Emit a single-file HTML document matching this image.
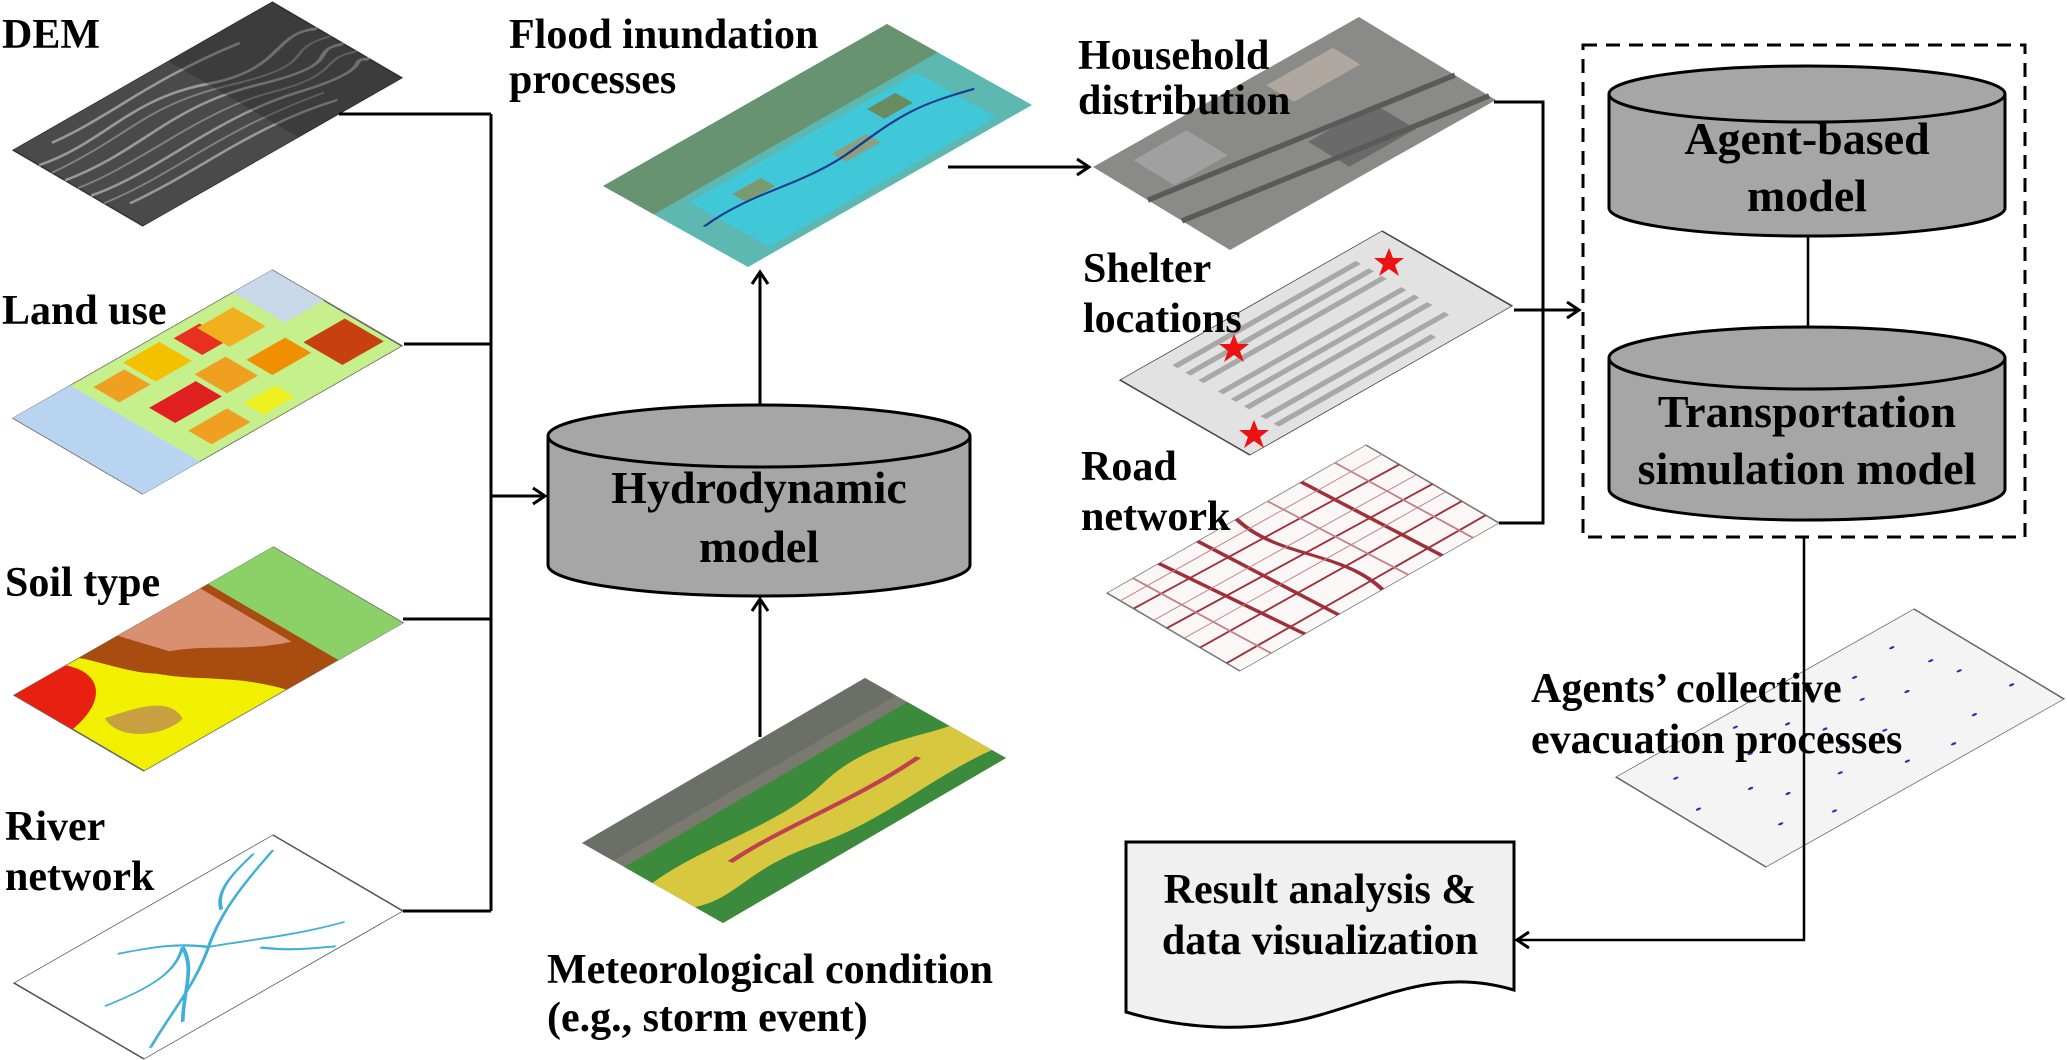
<!DOCTYPE html>
<html><head><meta charset="utf-8"><style>
html,body{margin:0;padding:0;background:#fff}
svg{display:block}
text{font-family:"Liberation Serif",serif;font-weight:bold;font-size:42px;fill:#000}
.cy{font-size:46px}
</style></head><body>
<svg width="2067" height="1060" viewBox="0 0 2067 1060" xmlns="http://www.w3.org/2000/svg">
<defs>
<marker id="ar" markerWidth="20" markerHeight="20" refX="14" refY="10" orient="auto" markerUnits="userSpaceOnUse">
<path d="M2,2 L14,10 L2,18" fill="none" stroke="#000" stroke-width="3"/>
</marker>
</defs>

<!-- DEM -->
<g transform="matrix(2.59,-1.48,1.30,0.76,13,150)">
<rect width="100" height="100" fill="#4a4a4a" stroke="#333" stroke-width="0.6"/>
<path d="M0,20 C20,30 40,10 60,30 S90,20 100,35 M0,40 C25,50 45,30 70,50 S90,45 100,55 M0,60 C20,70 50,55 75,70 S95,65 100,75 M5,80 C30,85 55,75 80,90 M10,10 C30,15 50,5 80,15" stroke="#bbb" stroke-width="2" fill="none" opacity="0.7"/>
<path d="M0,30 C30,35 40,20 65,40 S85,35 100,45 M0,50 C20,58 50,45 70,60 S90,55 100,65 M0,70 C25,78 45,65 80,80" stroke="#999" stroke-width="1.5" fill="none" opacity="0.7"/>
<rect x="60" y="0" width="40" height="100" fill="#222" opacity="0.35"/>
</g>

<!-- Land use -->
<g transform="matrix(2.59,-1.48,1.30,0.76,13,418)">
<rect width="100" height="100" fill="#c6f08c" stroke="#666" stroke-width="0.6"/>
<rect x="0" y="0" width="22" height="100" fill="#b8d4f0"/>
<rect x="85" y="0" width="15" height="40" fill="#c8d8e8"/>
<rect x="26" y="10" width="12" height="20" fill="#f0a020"/>
<rect x="40" y="5" width="14" height="25" fill="#f5c000"/>
<rect x="58" y="8" width="10" height="22" fill="#e83020"/>
<rect x="30" y="45" width="18" height="20" fill="#e02020"/>
<rect x="50" y="40" width="12" height="25" fill="#f0a020"/>
<rect x="65" y="50" width="15" height="20" fill="#f09000"/>
<rect x="82" y="60" width="16" height="30" fill="#c84010"/>
<rect x="30" y="75" width="15" height="18" fill="#f0a020"/>
<rect x="50" y="78" width="12" height="15" fill="#f0f020"/>
<rect x="66" y="10" width="14" height="25" fill="#f0b020"/>
</g>

<!-- Soil -->
<g transform="matrix(2.59,-1.48,1.30,0.76,14,695)">
<rect width="100" height="100" fill="#f0f000" stroke="#666" stroke-width="0.6"/>
<rect x="70" y="0" width="30" height="100" fill="#8cd068"/>
<path d="M25,0 H75 V100 H55 C50,70 40,60 35,40 C30,30 28,10 25,0Z" fill="#a84c10"/>
<path d="M40,0 H72 V70 C60,60 55,40 45,30Z" fill="#d89070"/>
<path d="M0,0 H20 C25,20 15,40 0,45Z" fill="#e82010"/>
<path d="M10,50 C20,55 30,60 25,80 C15,85 5,70 10,50Z" fill="#c8a040"/>
</g>

<!-- River -->
<g transform="matrix(2.59,-1.48,1.30,0.76,14,983)">
<rect width="100" height="100" fill="#fff" stroke="#555" stroke-width="0.6"/>
<path d="M5,95 C20,80 35,70 50,50 S80,20 95,10 M20,90 C30,70 40,60 45,40 M50,50 C60,60 70,75 85,85 M30,20 C40,30 45,35 50,50 M65,30 C70,15 80,10 90,5 M10,50 C25,55 35,55 45,40 M60,70 C65,85 70,90 75,98" stroke="#40b0d8" stroke-width="1.3" fill="none"/>
</g>

<!-- Flood -->
<g transform="matrix(2.84,-1.62,1.45,0.81,603,186)">
<rect width="100" height="100" fill="#5cb8b0"/>
<rect x="0" y="0" width="100" height="35" fill="#6a8a60" opacity="0.8"/>
<rect x="10" y="40" width="80" height="55" fill="#40c8d8"/>
<rect x="20" y="50" width="10" height="10" fill="#7a9a70"/>
<rect x="50" y="60" width="12" height="10" fill="#8aa080"/>
<rect x="70" y="45" width="10" height="12" fill="#6a8a60"/>
<path d="M5,60 C25,55 35,70 55,65 S80,60 95,70" stroke="#1a3a90" stroke-width="1.5" fill="none"/>
</g>

<!-- Household -->
<g transform="matrix(2.66,-1.50,1.37,0.83,1093,167)">
<rect width="100" height="100" fill="#8a8a88"/>
<rect x="10" y="10" width="20" height="30" fill="#a0a0a0"/>
<rect x="50" y="60" width="25" height="30" fill="#6a6a6a"/>
<rect x="60" y="10" width="25" height="20" fill="#b0a8a0"/>
<path d="M0,40 L100,70 M0,65 L100,95" stroke="#5a5a5a" stroke-width="4"/>
</g>

<!-- Shelter -->
<g transform="matrix(2.62,-1.49,1.30,0.75,1120,380)">
<rect width="100" height="100" fill="#e2e2e2" stroke="#444" stroke-width="0.6"/>
<g fill="#a8a8a8">
<rect x="15" y="10" width="70" height="4"/><rect x="15" y="20" width="70" height="4"/><rect x="15" y="30" width="70" height="4"/>
<rect x="15" y="45" width="70" height="4"/><rect x="15" y="55" width="70" height="4"/><rect x="15" y="65" width="70" height="4"/>
<rect x="15" y="78" width="70" height="4"/><rect x="15" y="88" width="60" height="4"/>
</g>
</g>

<!-- Road -->
<g transform="matrix(2.59,-1.48,1.33,0.78,1107,593)">
<rect width="100" height="100" fill="#fbf7f7" stroke="#777" stroke-width="0.6"/>
<path d="M0,20 L100,25 M0,45 L100,50 M0,70 L100,72 M20,0 L25,100 M50,0 C45,40 60,60 55,100 M75,0 L78,100 M0,90 L100,90 M35,0 L38,100" stroke="#a03038" stroke-width="1.4" fill="none"/>
<path d="M0,10 L100,12 M0,35 L100,38 M0,58 L100,60 M10,0 L12,100 M62,0 L65,100 M88,0 L90,100" stroke="#c08088" stroke-width="0.7" fill="none"/>
</g>

<!-- Meteorological -->
<g transform="matrix(2.83,-1.65,1.41,0.80,582,843)">
<rect width="100" height="100" fill="#7a7a70"/>
<rect x="0" y="30" width="100" height="70" fill="#3c8a3c"/>
<path d="M0,50 C20,45 40,60 60,50 S90,55 100,60 V90 C80,85 60,95 40,85 S10,90 0,80Z" fill="#d8c840"/>
<path d="M20,65 C40,62 60,72 85,68" stroke="#c04050" stroke-width="3" fill="none"/>
<rect x="0" y="0" width="100" height="22" fill="#6a7068"/>
</g>

<!-- Agents -->
<g transform="matrix(2.98,-1.68,1.50,0.90,1616,777)">
<rect width="100" height="100" fill="#f4f4f4" stroke="#666" stroke-width="0.5"/>
<g fill="#3030c0">
<circle cx="10" cy="20" r="0.8"/><circle cx="20" cy="50" r="0.8"/><circle cx="30" cy="30" r="0.8"/><circle cx="40" cy="70" r="0.8"/><circle cx="50" cy="40" r="0.8"/><circle cx="60" cy="60" r="0.8"/><circle cx="70" cy="20" r="0.8"/><circle cx="80" cy="80" r="0.8"/><circle cx="90" cy="50" r="0.8"/><circle cx="15" cy="80" r="0.8"/><circle cx="35" cy="10" r="0.8"/><circle cx="55" cy="85" r="0.8"/><circle cx="75" cy="45" r="0.8"/><circle cx="85" cy="15" r="0.8"/><circle cx="25" cy="65" r="0.8"/><circle cx="45" cy="25" r="0.8"/><circle cx="65" cy="35" r="0.8"/><circle cx="95" cy="75" r="0.8"/><circle cx="5" cy="45" r="0.8"/><circle cx="48" cy="55" r="0.8"/><circle cx="68" cy="90" r="0.8"/><circle cx="88" cy="35" r="0.8"/><circle cx="28" cy="90" r="0.8"/><circle cx="58" cy="12" r="0.8"/>
</g>
</g>

<!-- Stars -->
<g fill="#ee1111">
<polygon points="1389,248 1393,258 1404,258 1395,265 1399,276 1389,269 1379,276 1383,265 1374,258 1385,258"/>
<polygon points="1234,334 1238,344 1249,344 1240,351 1244,362 1234,355 1224,362 1228,351 1219,344 1230,344"/>
<polygon points="1254,420 1258,430 1269,430 1260,437 1264,448 1254,441 1244,448 1248,437 1239,430 1250,430"/>
</g>

<!-- Connectors -->
<g stroke="#000" stroke-width="3" fill="none">
<path d="M339,114 H491 M404,344 H491 M403,619 H491 M403,911 H491 M491,114 V911"/>
<path d="M491,496 H545" marker-end="url(#ar)"/>
<path d="M760,737 V599" marker-end="url(#ar)"/>
<path d="M760,404 V272" marker-end="url(#ar)"/>
<path d="M948,167 H1089" marker-end="url(#ar)"/>
<path d="M1494,102 H1543 V523 H1499"/>
<path d="M1514,310 H1579" marker-end="url(#ar)"/>
<path d="M1808,236 V327" stroke-width="2.5"/>
<path d="M1804,537 V940 H1517" stroke-width="2.5" marker-end="url(#ar)"/>
<rect x="1583" y="45" width="442" height="492" stroke-dasharray="14,9"/>
</g>

<!-- Cylinders -->
<g stroke="#000" stroke-width="3" fill="#a6a6a6">
<path d="M548,436 V565 A211,31 0 0 0 970,565 V436"/>
<ellipse cx="759" cy="436" rx="211" ry="31"/>
<path d="M1609,94 V208 A198,28 0 0 0 2005,208 V94"/>
<ellipse cx="1807" cy="94" rx="198" ry="28"/>
<path d="M1609,358 V489 A198,31 0 0 0 2005,489 V358"/>
<ellipse cx="1807" cy="358" rx="198" ry="31"/>
</g>
<text class="cy" x="759" y="503" text-anchor="middle">Hydrodynamic</text>
<text class="cy" x="759" y="562" text-anchor="middle">model</text>
<text class="cy" x="1807" y="154" text-anchor="middle">Agent-based</text>
<text class="cy" x="1807" y="211" text-anchor="middle">model</text>
<text class="cy" x="1807" y="427" text-anchor="middle">Transportation</text>
<text class="cy" x="1807" y="484" text-anchor="middle">simulation model</text>

<!-- Result doc -->
<path d="M1126,842 H1514 V990 C1440,968 1390,995 1320,1015 C1250,1035 1180,1028 1126,1012 Z" fill="#f0f0f0" stroke="#000" stroke-width="3"/>
<text x="1320" y="903" text-anchor="middle">Result analysis &amp;</text>
<text x="1320" y="954" text-anchor="middle">data visualization</text>

<!-- Labels -->
<text x="2" y="48">DEM</text>
<text x="2" y="324">Land use</text>
<text x="5" y="596">Soil type</text>
<text x="5" y="840">River</text>
<text x="5" y="890">network</text>
<text x="509" y="48">Flood inundation</text>
<text x="509" y="93">processes</text>
<text x="1078" y="69">Household</text>
<text x="1078" y="114">distribution</text>
<text x="1083" y="282">Shelter</text>
<text x="1083" y="332">locations</text>
<text x="1081" y="480">Road</text>
<text x="1081" y="530">network</text>
<text x="1531" y="702">Agents’ collective</text>
<text x="1531" y="753">evacuation processes</text>
<text x="547" y="983">Meteorological condition</text>
<text x="547" y="1031">(e.g., storm event)</text>
</svg>
</body></html>
